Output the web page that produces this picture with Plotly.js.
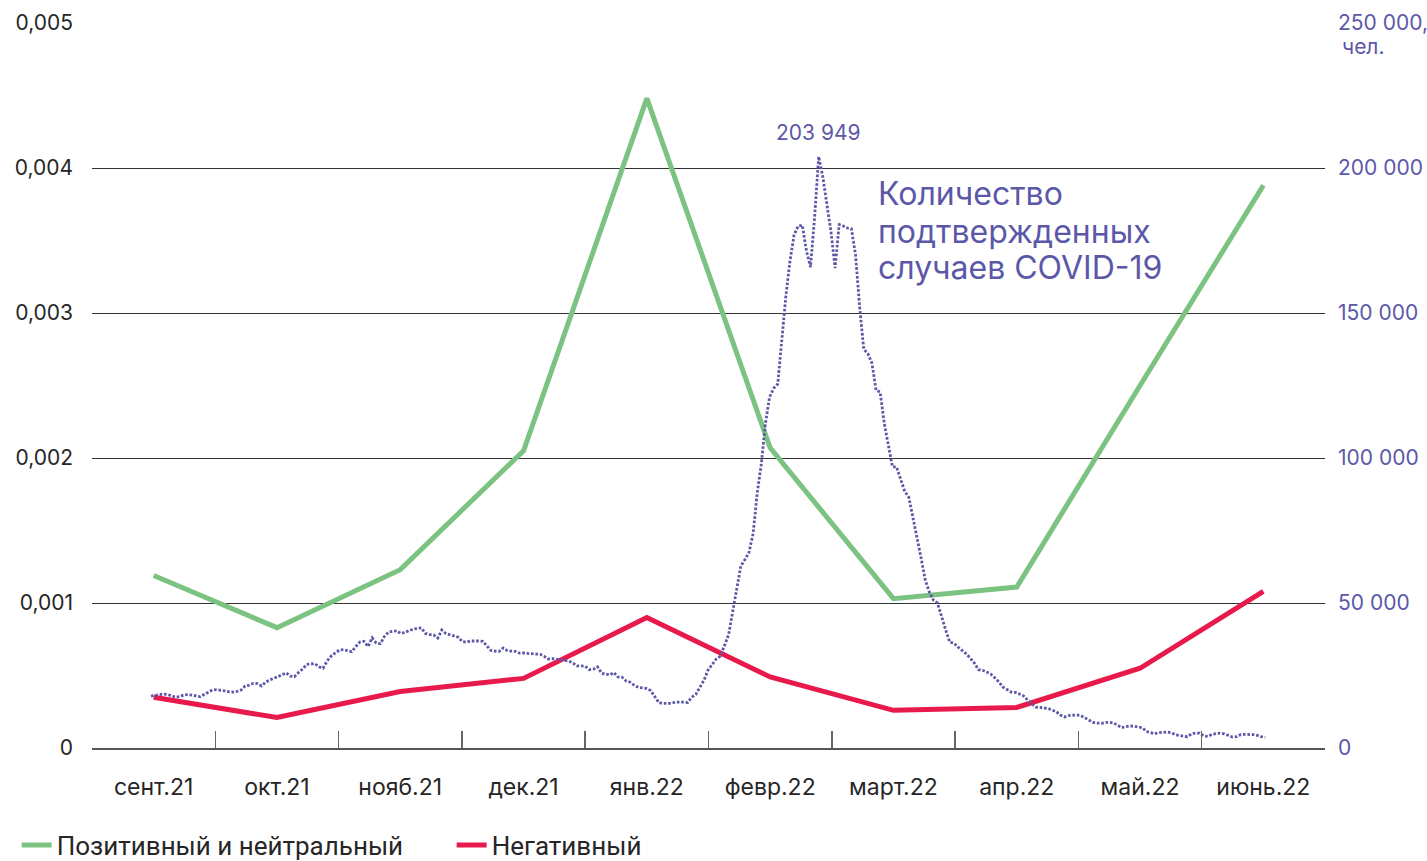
<!DOCTYPE html>
<html>
<head>
<meta charset="utf-8">
<script src="https://cdn.plot.ly/plotly-3.0.1.min.js"></script>
<style>
html,body{margin:0;padding:0;background:#fff;}
#chart{width:1427px;height:861px;}
</style>
</head>
<body>
<div id="chart"></div>
<script>
// Monthly categories
const months = ["сент.21","окт.21","нояб.21","дек.21","янв.22","февр.22","март.22","апр.22","май.22","июнь.22"];
// Share of publications (left axis)
const positiveNeutral = [0.00119,0.00083,0.00123,0.00205,0.00448,0.00207,0.00103,0.00111,0.00250,0.00388];
const negative = [0.00035,0.00021,0.00039,0.00048,0.00090,0.00049,0.00026,0.00028,0.00055,0.00108];

// Daily confirmed COVID-19 cases, from 1 Sept 2021 (day 0)
const covidDaily = [
 // Sept
 17900,18200,18500,18600,18500,18100,17500,17700,18300,18400,18300,18000,17700,18500,19300,20000,20100,20000,19700,19400,19300,19500,20000,21400,21700,22300,22200,21400,22700,23500,
 // Oct
 24000,24600,25300,25900,24800,24600,26000,27200,28800,29000,29100,28000,27500,30000,31700,32800,33800,33900,33500,33200,35000,36500,36800,35000,38000,36200,36000,38500,40000,40300,40400,
 // Nov
 39500,39800,40500,41000,41300,41400,39500,39100,39000,37900,40700,39500,39000,38600,38200,36700,36500,36900,37000,36900,36800,35200,33600,33400,33300,34500,33600,33400,33300,32700,
 // Dec
 32800,32600,32500,32600,32300,31600,30700,30800,30600,30300,30100,30000,29300,28300,28300,28200,27000,27200,28000,25800,25500,25200,26000,24500,24400,23100,22700,21600,20900,20700,20500,
 // Jan
 19800,17900,15600,15400,15300,15400,15800,15900,15800,15700,17500,18500,21000,23400,26900,29000,30700,31700,35500,39000,47000,55000,62800,65000,67500,74000,88000,98000,112000,121000,124000,
 // Feb
 125500,142000,156000,168000,177000,180000,180300,171500,165800,183000,203949,197000,188000,178000,165500,180500,180000,179300,179000,170000,152000,137500,136000,132700,123400,122700,112000,104000,
 // Mar
 97000,96900,93000,88500,86500,79000,72500,65500,58000,53800,51000,50000,45000,40700,36500,36200,34800,33800,32500,31000,29300,27000,26800,26200,25500,24200,22800,21000,20000,19300,19200,
 // Apr
 18700,18000,16500,15200,14100,14000,13900,13600,13100,12500,11400,10700,11200,11400,11400,11200,10300,9700,8800,8600,8500,8800,8900,8600,7900,7000,7400,7600,7500,7300,
 // May
 7000,5700,5200,4900,5300,5500,5500,5300,4600,4300,4000,3900,4800,5200,5100,4200,4000,4700,5000,5100,4900,4300,3800,3900,4600,4700,4700,4600,4400,3900,3700
];
const dayIndex = covidDaily.map((v,i)=>i);

const leftTicks = [0,0.001,0.002,0.003,0.004,0.005];
const leftTickText = ["0","0,001","0,002","0,003","0,004","0,005"];
const rightTicks = [0,50000,100000,150000,200000,250000];
const rightTickText = ["0","50 000","100 000","150 000","200 000","250 000,"];
const covidLabelLines = ["Количество","подтвержденных","случаев COVID-19"];

const GREEN = "#7CC382", RED = "#E8194B", PURPLE = "#5C58A8", TXT = "#262626";
const TICKFONT = "Inter, Roboto, sans-serif";

const peakVal = Math.max(...covidDaily);
const peakIdx = covidDaily.indexOf(peakVal);
const fmt = v => String(v).replace(/\B(?=(\d{3})+(?!\d))/g, " ");

const traces = [
 {x: dayIndex, y: covidDaily, xaxis:"x2", yaxis:"y2", type:"scatter", mode:"lines",
  line:{color:PURPLE, width:2.8, dash:"2.6px,1.8px"}, showlegend:false, hoverinfo:"skip"},
 {x: months, y: positiveNeutral, type:"scatter", mode:"lines", name:"Позитивный и нейтральный",
  line:{color:GREEN, width:5}},
 {x: months, y: negative, type:"scatter", mode:"lines", name:"Негативный",
  line:{color:RED, width:5}}
];

const lineY = [0.7655, 0.7131, 0.6621];
const annotations = [
  {xref:"x2", yref:"y2", x:peakIdx, y:peakVal, text:fmt(peakVal), showarrow:false, yanchor:"bottom", yshift:10,
   font:{size:21, color:PURPLE, family:TICKFONT}},
  {xref:"paper", yref:"paper", x:1.0122, y:0.967, xanchor:"left", yanchor:"middle", showarrow:false,
   text:"чел.", font:{size:21, color:PURPLE, family:TICKFONT}}
];
covidLabelLines.forEach((t,i)=>annotations.push({xref:"paper", yref:"paper", x:0.6355, y:lineY[i],
  xanchor:"left", yanchor:"middle", showarrow:false, text:t,
  font:{size:32, color:PURPLE, family:"Inter, Roboto, sans-serif"}}));

const layout = {
 width:1427, height:861,
 margin:{l:92, r:102, t:23, b:113, autoexpand:false},
 paper_bgcolor:"#fff", plot_bgcolor:"#fff",
 font:{family:"Roboto, Inter, sans-serif", color:TXT},
 showlegend:true,
 legend:{orientation:"h", x:-0.0611, xanchor:"left", y:-0.134, yanchor:"middle",
   font:{size:26, family:"Roboto, sans-serif", color:TXT}, traceorder:"normal", entrywidth:390, entrywidthmode:"pixels"},
 xaxis:{type:"category", range:[-0.5,9.5], tickson:"boundaries", ticks:"inside", ticklen:17,
   tickcolor:"#666", tickwidth:1.5, showline:true, linecolor:"#555", linewidth:2, showgrid:false,
   tickfont:{size:23, color:TXT, family:TICKFONT}, ticklabelstandoff:17, fixedrange:true},
 xaxis2:{overlaying:"x", anchor:"y", range:[-14.4,286.6], visible:false, showgrid:false},
 yaxis:{range:[0,0.005], tickvals:leftTicks, ticktext:leftTickText, showgrid:true, gridcolor:"#333",
   gridwidth:1, zeroline:false, showline:false, ticks:"", tickfont:{size:21, color:TXT, family:TICKFONT}, ticklabelstandoff:18},
 yaxis2:{overlaying:"y", side:"right", anchor:"x", range:[0,250000], tickvals:rightTicks, ticktext:rightTickText,
   showgrid:false, zeroline:false, showline:false, ticks:"", tickfont:{size:21, color:PURPLE, family:TICKFONT}, ticklabelstandoff:12},
 annotations: annotations
};

Plotly.newPlot("chart", traces, layout, {displayModeBar:false, staticPlot:true});
</script>
</body>
</html>
